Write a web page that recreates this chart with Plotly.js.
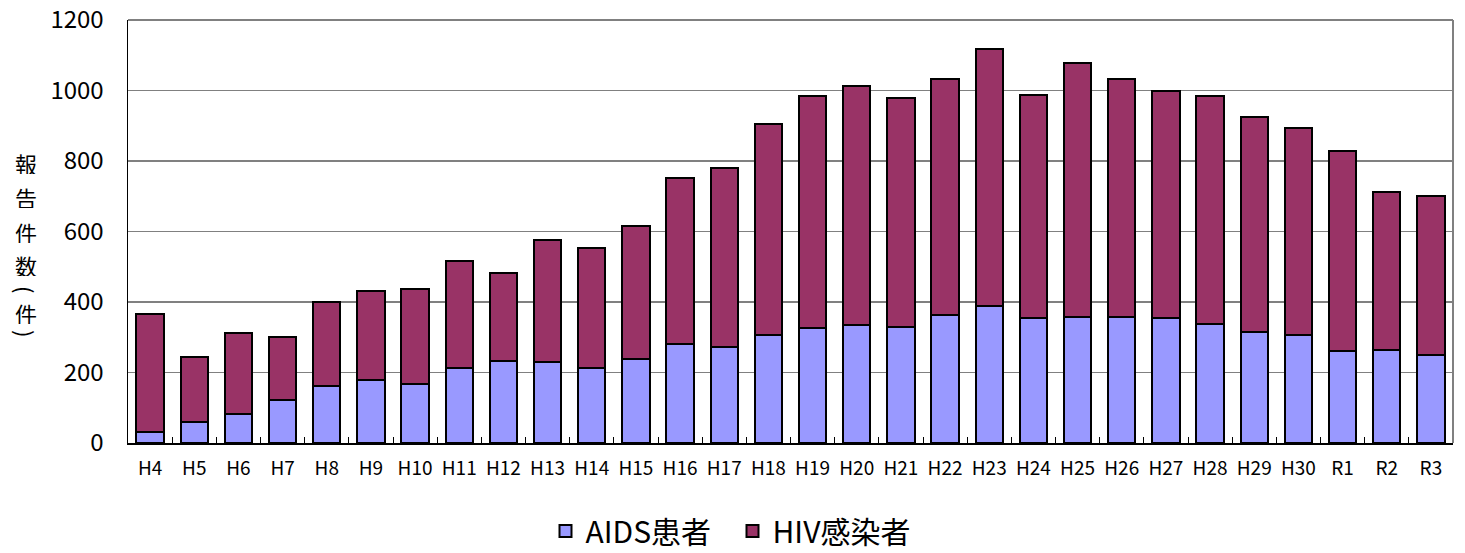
<!DOCTYPE html>
<html><head><meta charset="utf-8">
<script src="https://cdn.plot.ly/plotly-3.0.1.min.js"></script>
<style>html,body{margin:0;padding:0;background:#fff;}#chart{width:1465px;height:553px;}</style>
</head><body><div id="chart"></div>
<script>
const categories = ["H4","H5","H6","H7","H8","H9","H10","H11","H12","H13","H14","H15","H16","H17","H18","H19","H20","H21","H22","H23","H24","H25","H26","H27","H28","H29","H30","R1","R2","R3"];
const aids = [30,61,82,122,163,179,167,213,234,229,214,237,282,271,306,325,334,328,362,388,355,358,357,356,339,316,305,260,265,250];
const totals = [366,245,311,302,401,432,438,515,482,577,553,616,753,780,905,984,1012,980,1034,1119,986,1077,1034,999,983,924,894,828,711,700];
const hiv = totals.map((t,i)=>t-aids[i]);
const yTicks = [0,200,400,600,800,1000,1200];
const yTitleChars = ["報","告","件","数","(","件",")"];

const font = "'Noto Sans CJK JP', 'Noto Sans', sans-serif";
const traces = [
  {type:"bar", name:"AIDS患者", x:categories, y:aids,
   marker:{color:"#9999FF", line:{color:"#000", width:2}}},
  {type:"bar", name:"HIV感染者", x:categories, y:hiv,
   marker:{color:"#993366", line:{color:"#000", width:2}}}
];
// vertical title: pixel rows of each character (screen y)
const charRows = [163,197,232,265,290,313,334];
const plotTop = 20, plotBottom = 443;
const annotations = yTitleChars.map((c,i)=>{
  const paren = (c==="(" || c===")");
  return {
    text:c, xref:"paper", yref:"paper",
    x:-0.077, y:(plotBottom-charRows[i])/(plotBottom-plotTop),
    xanchor:"center", yanchor:"middle", showarrow:false,
    textangle: paren ? 90 : 0,
    height: paren ? undefined : 22,
    font:{size: 22, family:font}
  };
});
const layout = {
  width:1465, height:553,
  margin:{l:128, r:12, t:20, b:110},
  barmode:"stack", bargap:0.38,
  paper_bgcolor:"#fff", plot_bgcolor:"#fff",
  font:{family:font, color:"#000"},
  showlegend:true,
  legend:{orientation:"h", x:0.5, xanchor:"center", xref:"container",
          y:0.04, yanchor:"middle", yref:"container",
          font:{size:30, family:font}, itemwidth:24, traceorder:"normal",
          entrywidth:142, entrywidthmode:"pixels"},
  xaxis:{type:"category", showline:true, linecolor:"#000", linewidth:1.5,
         ticks:"inside", tickson:"boundaries", ticklen:6, tickcolor:"#000",
         tickfont:{size:19, family:font}, showgrid:false, automargin:false,
         ticklabelstandoff:8},
  yaxis:{range:[0,1200], tickvals:yTicks, ticktext:yTicks.map(String),
         showline:true, linecolor:"#000", linewidth:1.5,
         ticks:"outside", ticklen:18, tickcolor:"rgba(0,0,0,0)",
         gridcolor:"#808080", gridwidth:1.2, zeroline:false, automargin:false,
         tickfont:{size:24, family:font}},
  shapes:[
    {type:"line", xref:"paper", yref:"paper", x0:0, x1:1, y0:1, y1:1, line:{color:"#808080", width:2}},
    {type:"line", xref:"paper", yref:"paper", x0:1, x1:1, y0:0, y1:1, line:{color:"#808080", width:2}}
  ],
  annotations:annotations
};
Plotly.newPlot("chart", traces, layout, {displayModeBar:false, staticPlot:true});
</script></body></html>
